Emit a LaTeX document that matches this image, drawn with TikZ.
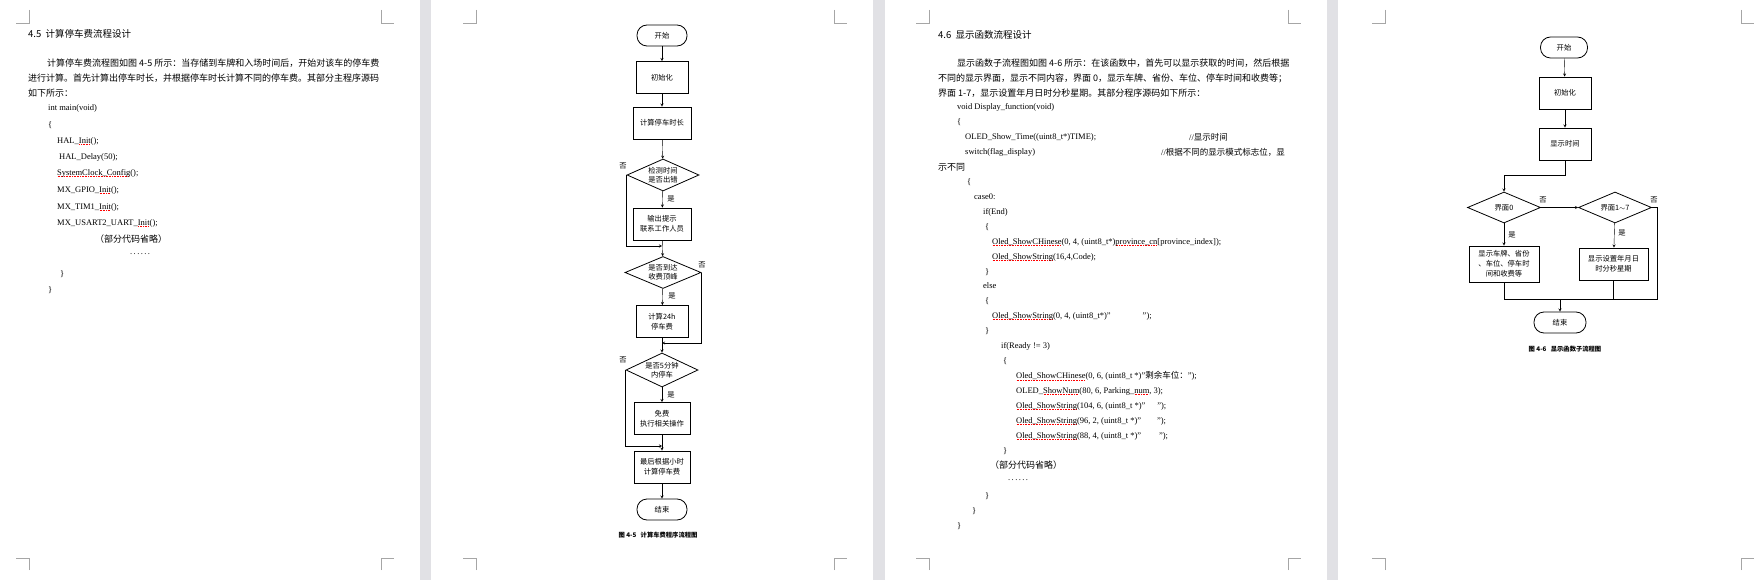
\documentclass[tikz,border=0pt]{standalone}
\usepackage{fontspec}
\setmainfont{Liberation Serif}
\newfontfamily\cjk{Noto Sans CJK SC}
\usetikzlibrary{shapes.geometric}
\newcommand\zh[1]{{\cjk #1}}
\newcommand\sqw[1]{\setbox0=\hbox{#1}\rlap{\raisebox{-1.8pt}{\color{red}\hbox to \wd0{\leaders\hbox to 1.6pt{\hss\vrule width0.8pt height0.5pt\hss}\hfill}}}\box0}
\colorlet{barc}{blue!6!gray!22}

\tikzset{
  body/.style={anchor=west,inner sep=0pt,font=\fontsize{8.5}{10}\selectfont},
  zhbody/.style={body,font=\cjk\fontsize{9}{10}\selectfont},
  sechead/.style={anchor=west,inner sep=0pt,font=\cjk\fontsize{9.5}{11}\selectfont},
  box/.style={draw,line width=0.9pt,minimum width=52pt,minimum height=32pt,inner sep=1pt,align=center,font=\cjk\fontsize{7.3}{10}\selectfont},
  term/.style={draw,line width=0.8pt,rounded corners=10pt,minimum width=50pt,minimum height=21pt,inner sep=1pt,font=\cjk\fontsize{7.3}{10}\selectfont},
  dia/.style={draw,line width=0.8pt,diamond,minimum width=72pt,minimum height=32pt,inner sep=0pt},
  lab/.style={align=center,inner sep=0pt,font=\cjk\fontsize{7.3}{9}\selectfont},
  lbl/.style={inner sep=0pt,font=\cjk\fontsize{7.3}{9}\selectfont},
  figcap/.style={inner sep=0pt,font=\cjk\bfseries\fontsize{6.3}{8}\selectfont},
  cornermark/.style={gray!70,line width=0.6pt},
  >=stealth
}

\begin{document}
\begin{tikzpicture}[x=1pt,y=-1pt]
\useasboundingbox (0,0) rectangle (1756,580);
\fill[white] (0,0) rectangle (1756,580);

% gaps between the pages
\fill[barc] (420,0) rectangle (431,580);
\fill[barc] (873,0) rectangle (885,580);
\fill[barc] (1327,0) rectangle (1338,580);

% corner marks
\foreach \xl/\xr in {29/381,476/834,929/1288,1385/1741}{
  \draw[cornermark] (\xl,10)--(\xl,23)--(\xl-13,23);
  \draw[cornermark] (\xr,10)--(\xr,23)--(\xr+13,23);
  \draw[cornermark] (\xl,570)--(\xl,558)--(\xl-13,558);
  \draw[cornermark] (\xr,570)--(\xr,558)--(\xr+13,558);
}

% page 1
\node[sechead] (h1) at (28,34) {4.5\ \ 计算停车费流程设计};
\node[zhbody] (p11) at (47,63) {计算停车费流程图如图 4-5 所示：当存储到车牌和入场时间后，开始对该车的停车费};
\node[zhbody] (p12) at (28,78) {进行计算。首先计算出停车时长，并根据停车时长计算不同的停车费。其部分主程序源码};
\node[zhbody] (p13) at (28,93) {如下所示：};
\node[body] (c11) at (48,108) {int main(void)};
\node[body] (c12) at (48,125) {\{};
\node[body] (c13) at (57,141) {HAL\_\sqw{Init}();};
\node[body] (c14) at (59,157) {HAL\_Delay(50);};
\node[body] (c15) at (57,173) {\sqw{SystemClock\_Config}();};
\node[body] (c16) at (57,190) {MX\_GPIO\_\sqw{Init}();};
\node[body] (c17) at (57,207) {MX\_TIM1\_\sqw{Init}();};
\node[body] (c18) at (57,223) {MX\_USART2\_UART\_\sqw{Init}();};
\node[zhbody] (c19) at (95,239) {（部分代码省略）};
\node[body] (c110) at (130,254) {.\,.\,.\,.\,.\,.};
\node[body] (c111) at (60,274) {\}};
\node[body] (c112) at (48,290) {\}};

% page 2: flow chart
\node[term] (s1) at (662,35.5) {开始};
\node[box] (b1) at (662,77.5) {初始化};
\node[box,minimum width=58pt] (b2) at (662,123) {计算停车时长};
\node[dia,label={[lab]center:{检测时间\\是否出错}}] (d1) at (663,175) {};
\node[box,minimum width=58pt] (b3) at (662,224) {输出提示\\联系工作人员};
\node[dia,minimum width=76pt,label={[lab]center:{是否到达\\收费顶峰}}] (d2) at (663,272.5) {};
\node[box] (b4) at (662,321.5) {计算24h\\停车费};
\node[dia,minimum width=72pt,minimum height=34pt,label={[lab]center:{是否5分钟\\内停车}}] (d3) at (662,370) {};
\node[box,minimum width=56pt] (b5) at (662,418.5) {免费\\执行相关操作};
\node[box,minimum width=56pt] (b6) at (662,467) {最后根据小时\\计算停车费};
\node[term] (e1) at (662,509.5) {结束};
\coordinate (j1) at (662,246);
\coordinate (j2) at (662,343);
\coordinate (j3) at (662,446);

\draw[->] (s1)--(b1);
\draw[->] (b1)--(b2);
\draw[->] (b2)--(d1);
\draw[->] (d1)--(b3);
\draw[->] (b3)--(d2);
\draw[->] (d1.west) |- (j1);
\draw[->] (d2)--(b4);
\draw[->] (b4)--(d3);
\draw[->] (d2.east) |- (j2);
\draw[->] (d3)--(b5);
\draw[->] (b5)--(b6);
\draw[->] (d3.west) |- (j3);
\draw[->] (b6)--(e1);

\node[lbl] (n1) at (623,166) {否};
\node[lbl] (y1) at (671,199) {是};
\node[lbl] (n2) at (702,265) {否};
\node[lbl] (y2) at (672,296) {是};
\node[lbl] (n3) at (623,360) {否};
\node[lbl] (y3) at (671,395) {是};
\node[figcap] (cap1) at (658,535) {图 4-5\ \ \ 计算车费程序流程图};

% page 3
\node[sechead] (h2) at (938,35) {4.6\ \ 显示函数流程设计};
\node[zhbody] (p21) at (957,63) {显示函数子流程图如图 4-6 所示：在该函数中，首先可以显示获取的时间，然后根据};
\node[zhbody] (p22) at (938,78) {不同的显示界面，显示不同内容，界面 0，显示车牌、省份、车位、停车时间和收费等；};
\node[zhbody] (p23) at (938,93) {界面 1-7，显示设置年月日时分秒星期。其部分程序源码如下所示：};
\node[body] (c21) at (957,107) {void Display\_function(void)};
\node[body] (c22) at (957,122) {\{};
\node[body] (c23) at (965,137) {OLED\_Show\_Time((uint8\_t*)TIME);};
\node[body] (c23b) at (1189,137) {//\zh{显示时间}};
\node[body] (c24) at (965,152) {switch(flag\_display)};
\node[body] (c24b) at (1161,152) {//\zh{根据不同的显示模式标志位，显}};
\node[zhbody] (c25) at (938,167) {示不同};
\node[body] (c26) at (967,182) {\{};
\node[body] (c27) at (974,197) {case0:};
\node[body] (c28) at (983,212) {if(End)};
\node[body] (c29) at (985,227) {\{};
\node[body] (c210) at (992,242) {\sqw{Oled\_ShowCHinese}(0, 4, (uint8\_t*)\sqw{province\_cn}[province\_index]);};
\node[body] (c211) at (992,257) {\sqw{Oled\_ShowString}(16,4,Code);};
\node[body] (c212) at (985,272) {\}};
\node[body] (c213) at (983,286) {else};
\node[body] (c214) at (985,301) {\{};
\node[body] (c215) at (992,316) {\sqw{Oled\_ShowString}(0, 4, (uint8\_t*)"\hspace{32pt}");};
\node[body] (c216) at (985,331) {\}};
\node[body] (c217) at (1001,346) {if(Ready != 3)};
\node[body] (c218) at (1003,361) {\{};
\node[body] (c219) at (1016,376) {\sqw{Oled\_ShowCHinese}(0, 6, (uint8\_t *)"\zh{剩余车位：}");};
\node[body] (c220) at (1016,391) {OLED\_\sqw{ShowNum}(80, 6, Parking\_\sqw{num}, 3);};
\node[body] (c221) at (1016,406) {\sqw{Oled\_ShowString}(104, 6, (uint8\_t *)"\hspace{12pt}");};
\node[body] (c222) at (1016,421) {\sqw{Oled\_ShowString}(96, 2, (uint8\_t *)"\hspace{16pt}");};
\node[body] (c223) at (1016,436) {\sqw{Oled\_ShowString}(88, 4, (uint8\_t *)"\hspace{18pt}");};
\node[body] (c224) at (1003,451) {\}};
\node[zhbody] (c225) at (990,465) {（部分代码省略）};
\node[body] (c226) at (1008,480) {.\,.\,.\,.\,.\,.};
\node[body] (c227) at (985,496) {\}};
\node[body] (c228) at (972,511) {\}};
\node[body] (c229) at (957,526) {\}};

% page 4: flow chart
\node[term,minimum width=47pt] (s2) at (1564,47.5) {开始};
\node[box] (a1) at (1565,93) {初始化};
\node[box] (a2) at (1565,144) {显示时间};
\node[dia,minimum width=73pt,minimum height=31pt,label={[lab]center:{界面0}}] (f1) at (1504,207.5) {};
\node[dia,minimum width=73pt,minimum height=31pt,label={[lab]center:{界面1$\sim$7}}] (f2) at (1615,207.5) {};
\node[box,minimum width=70pt,minimum height=36pt] (a3) at (1504,264) {显示车牌、省份\\、车位、停车时\\间和收费等};
\node[box,minimum width=69pt] (a4) at (1613.5,264) {显示设置年月日\\时分秒星期};
\node[term,minimum width=52pt] (e2) at (1560,322.5) {结束};
\coordinate (k0) at (1504,175);
\coordinate (k1) at (1560,299);
\coordinate (kr) at (1657,299);

\draw[->] (s2)--(a1);
\draw[->] (a1)--(a2);
\draw[->] (a2) |- (k0) -- (f1);
\draw[->] (f1)--(f2);
\draw[->] (f1)--(a3);
\draw[->] (f2)--(a4);
\draw (f2.east) -- (f2.east -| kr) -- (kr) -- (k1);
\draw (a3) |- (k1);
\draw (a4) |- (k1);
\draw[->] (k1)--(e2);

\node[lbl] (n4) at (1543,200) {否};
\node[lbl] (y4) at (1512,235) {是};
\node[lbl] (n5) at (1654,200) {否};
\node[lbl] (y5) at (1622,233) {是};
\node[figcap] (cap2) at (1565,349) {图 4-6\ \ \ 显示函数子流程图};
\end{tikzpicture}
\end{document}
